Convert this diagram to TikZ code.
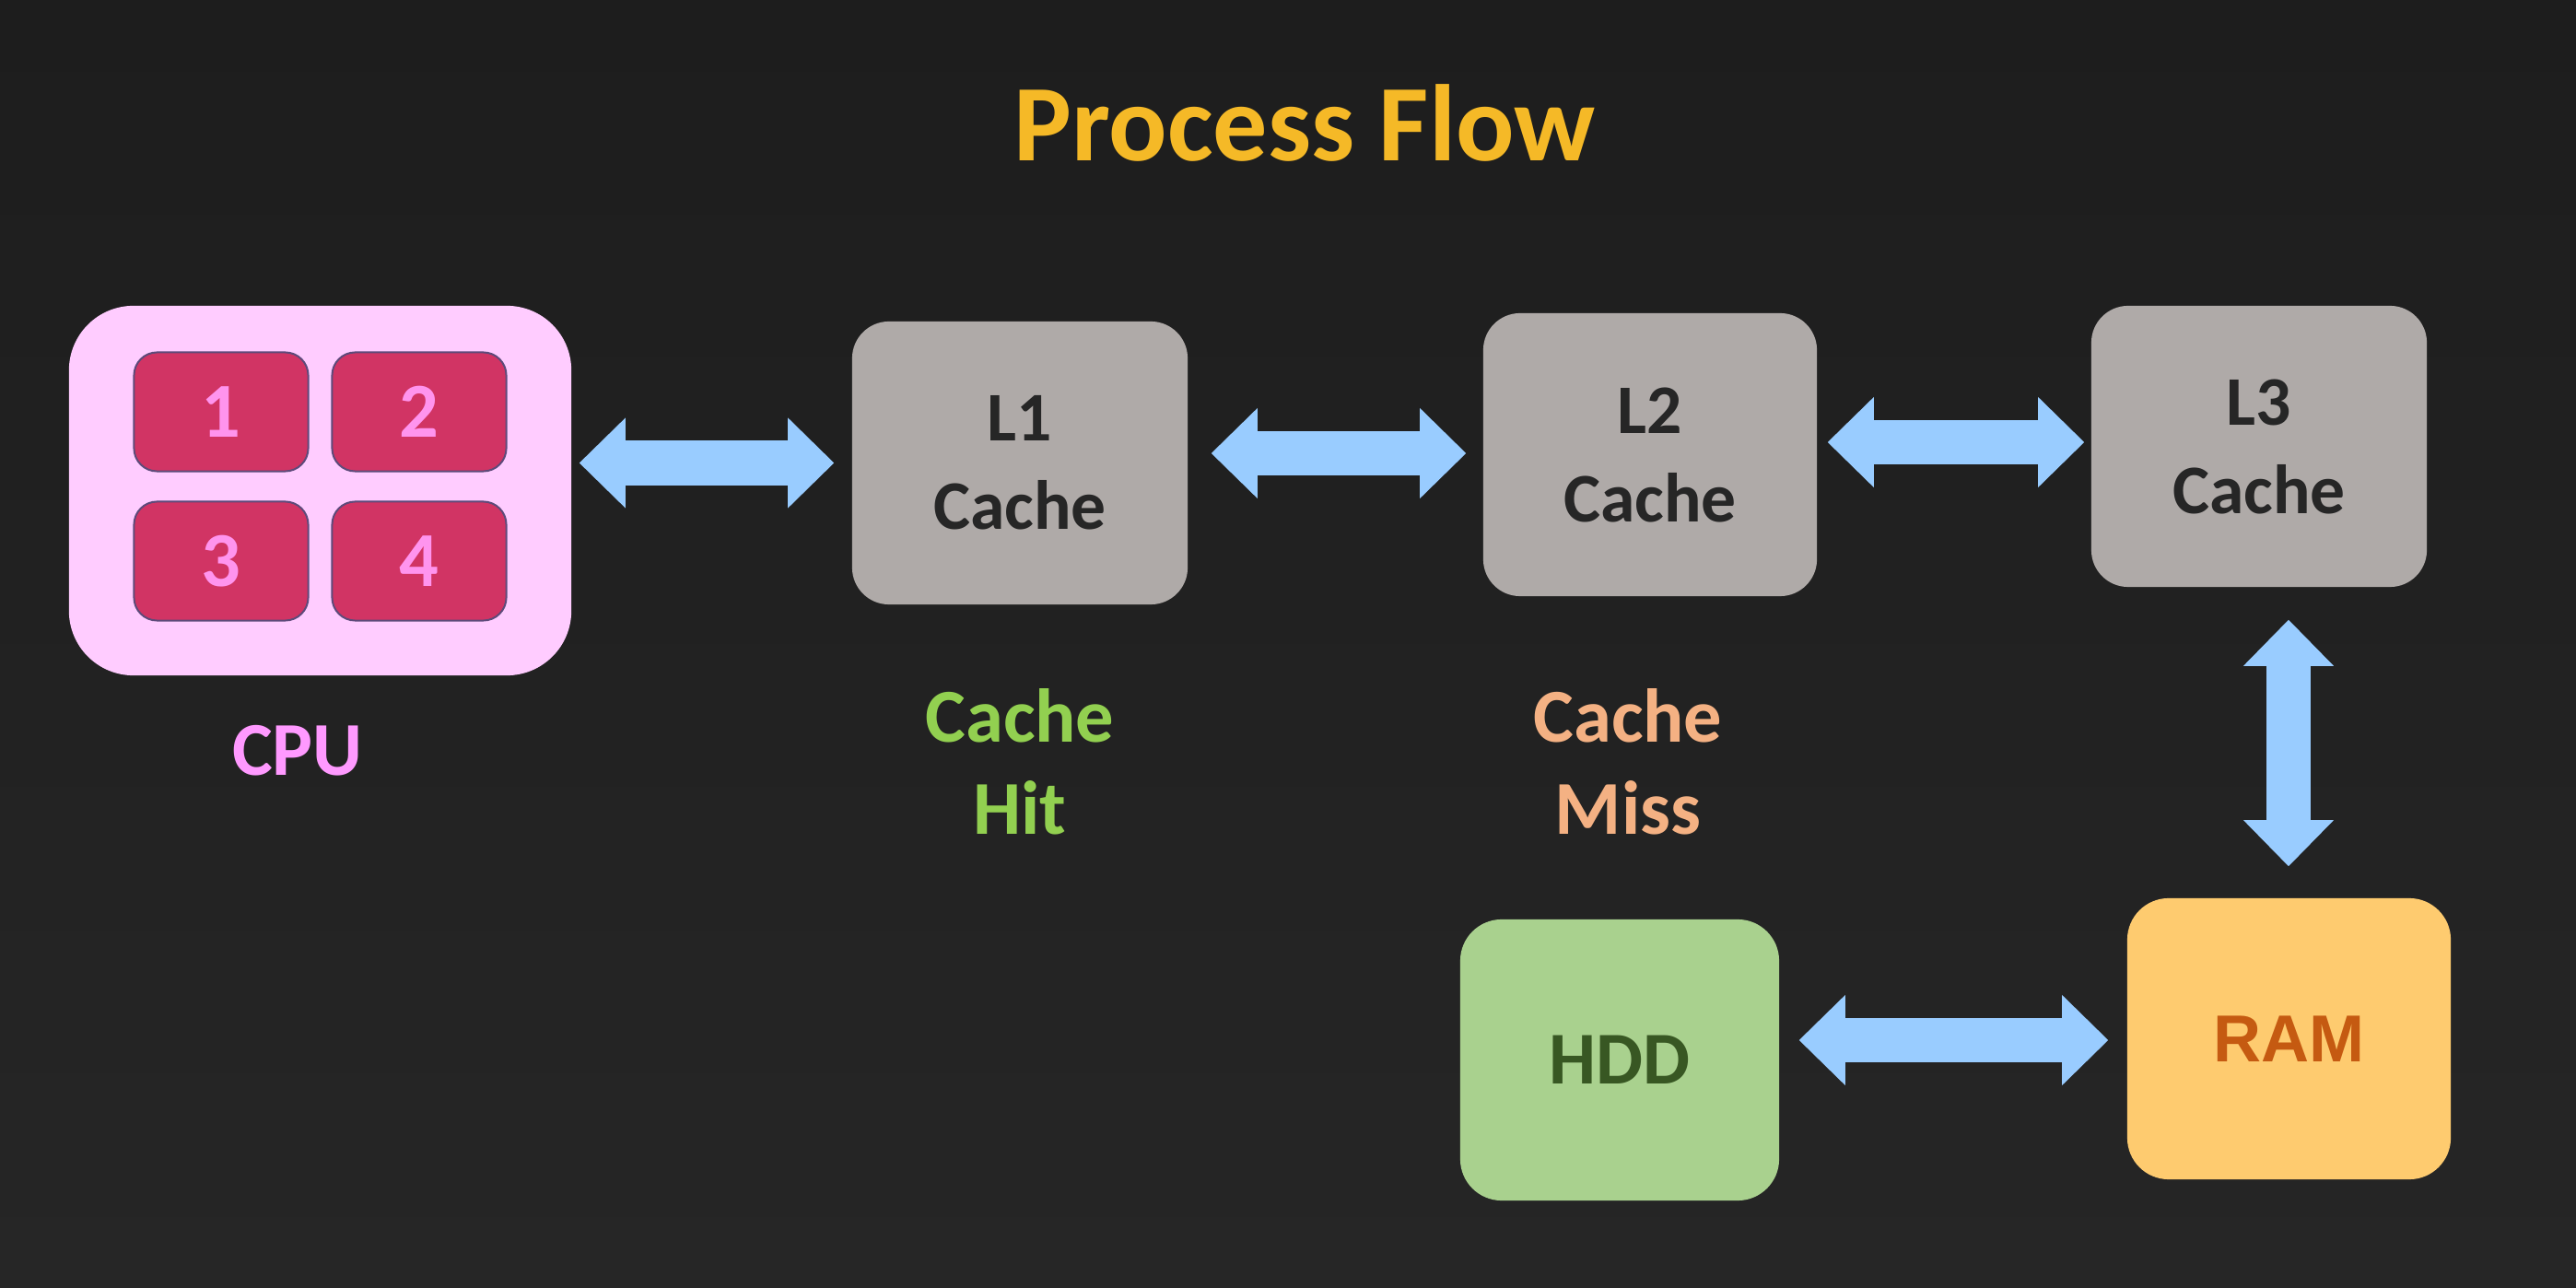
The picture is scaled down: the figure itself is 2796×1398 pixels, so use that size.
\documentclass[tikz,border=0pt]{standalone}
\usepackage{fontspec}
\setmainfont{Carlito}
\newfontfamily\arialfont{Liberation Sans}
\usetikzlibrary{arrows.meta,calc}
\definecolor{bgtop}{HTML}{1D1D1D}
\definecolor{bgbot}{HTML}{262626}
\definecolor{titlegold}{HTML}{F5B927}
\definecolor{cpupink}{HTML}{FFCCFF}
\definecolor{corered}{HTML}{D13464}
\definecolor{coreborder}{HTML}{5E4A7A}
\definecolor{coredigit}{HTML}{FF94EE}
\definecolor{cpulabel}{HTML}{FF99FF}
\definecolor{cachegray}{HTML}{AFAAA8}
\definecolor{cachetext}{HTML}{262626}
\definecolor{arrowblue}{HTML}{99CCFF}
\definecolor{hitgreen}{HTML}{92D050}
\definecolor{missorange}{HTML}{F4B183}
\definecolor{ramfill}{HTML}{FECB6F}
\definecolor{ramtext}{HTML}{C55A11}
\definecolor{hddfill}{HTML}{A9D18E}
\definecolor{hddtext}{HTML}{385723}
\tikzset{
  cachebox/.style={fill=cachegray, rounded corners=0.4cm, inner sep=0pt,
    minimum width=3.64cm, minimum height=3.07cm, align=center, text=cachetext,
    font=\fontsize{21.5}{27.3}\selectfont\bfseries},
  corebox/.style={fill=corered, draw=coreborder, line width=0.02cm, rounded corners=0.25cm,
    inner sep=0pt, minimum width=1.89cm, minimum height=1.29cm, text=coredigit,
    font=\fontsize{24}{28}\selectfont\bfseries},
  lbl/.style={align=center, inner sep=0pt, font=\fontsize{23.5}{28.5}\selectfont\bfseries},
  fat/.style={draw=arrowblue, line width=0.48cm,
    {Triangle[length=0.5cm,width=0.98cm,line width=0pt]}-{Triangle[length=0.5cm,width=0.98cm,line width=0pt]}}
}
\begin{document}
\begin{tikzpicture}[x=0.01cm,y=-0.01cm]
\shade[top color=bgtop, bottom color=bgbot] (0,0) rectangle (2796,1398);
\useasboundingbox (0,0) rectangle (2796,1398);

\node[text=titlegold, inner sep=0pt, font=\fontsize{33.6}{40}\selectfont\bfseries] (title) at (1416,133) {Process Flow};

% CPU
\node[fill=cpupink, rounded corners=0.7cm, inner sep=0pt, minimum width=5.45cm, minimum height=4.01cm] (cpu) at (347.5,532.5) {};
\node[corebox] (c1) at (240,447) {1};
\node[corebox] (c2) at (455,447) {2};
\node[corebox] (c3) at (240,609) {3};
\node[corebox] (c4) at (455,609) {4};
\node[lbl, text=cpulabel] (cpulbl) at (323,815) {CPU};

% caches
\node[cachebox] (l1) at (1107,502.5) {L1\\Cache};
\node[cachebox, minimum width=3.62cm] (l2) at (1791,493.5) {L2\\Cache};
\node[cachebox, minimum height=3.05cm] (l3) at (2452,484.5) {L3\\Cache};

\node[lbl, text=hitgreen] (hit) at (1107,827) {Cache\\Hit};
\node[lbl, text=missorange] (miss) at (1767,827) {Cache\\Miss};

% RAM and HDD
\node[fill=ramfill, rounded corners=0.45cm, inner sep=0pt, minimum width=3.51cm, minimum height=3.05cm,
  text=ramtext, font=\fontsize{20.5}{24}\selectfont\arialfont\bfseries] (ram) at (2484.5,1127.5) {RAM};
\node[fill=hddfill, rounded corners=0.45cm, inner sep=0pt, minimum width=3.46cm, minimum height=3.05cm,
  text=hddtext, font=\fontsize{23}{27}\selectfont\bfseries] (hdd) at (1758,1150.5) {HDD};

% arrows
\draw[fat] ($(cpu.east |- l1.west)+(8,0)$) -- ($(l1.west)+(-19,0)$);
\draw[fat] ($(l1.east |- l2.west)+(25,-1.5)$) -- ($(l2.west)+(-18,-1.5)$);
\draw[fat] ($(l2.east |- l3.west)+(11,-4.5)$) -- ($(l3.west)+(-7,-4.5)$);
\draw[fat] ($(l3.south -| ram.north)+(-0.5,35)$) -- ($(ram.north)+(-0.5,-34)$);
\draw[fat] ($(hdd.east |- ram.west)+(21,1.5)$) -- ($(ram.west)+(-20,1.5)$);
\end{tikzpicture}
\end{document}
